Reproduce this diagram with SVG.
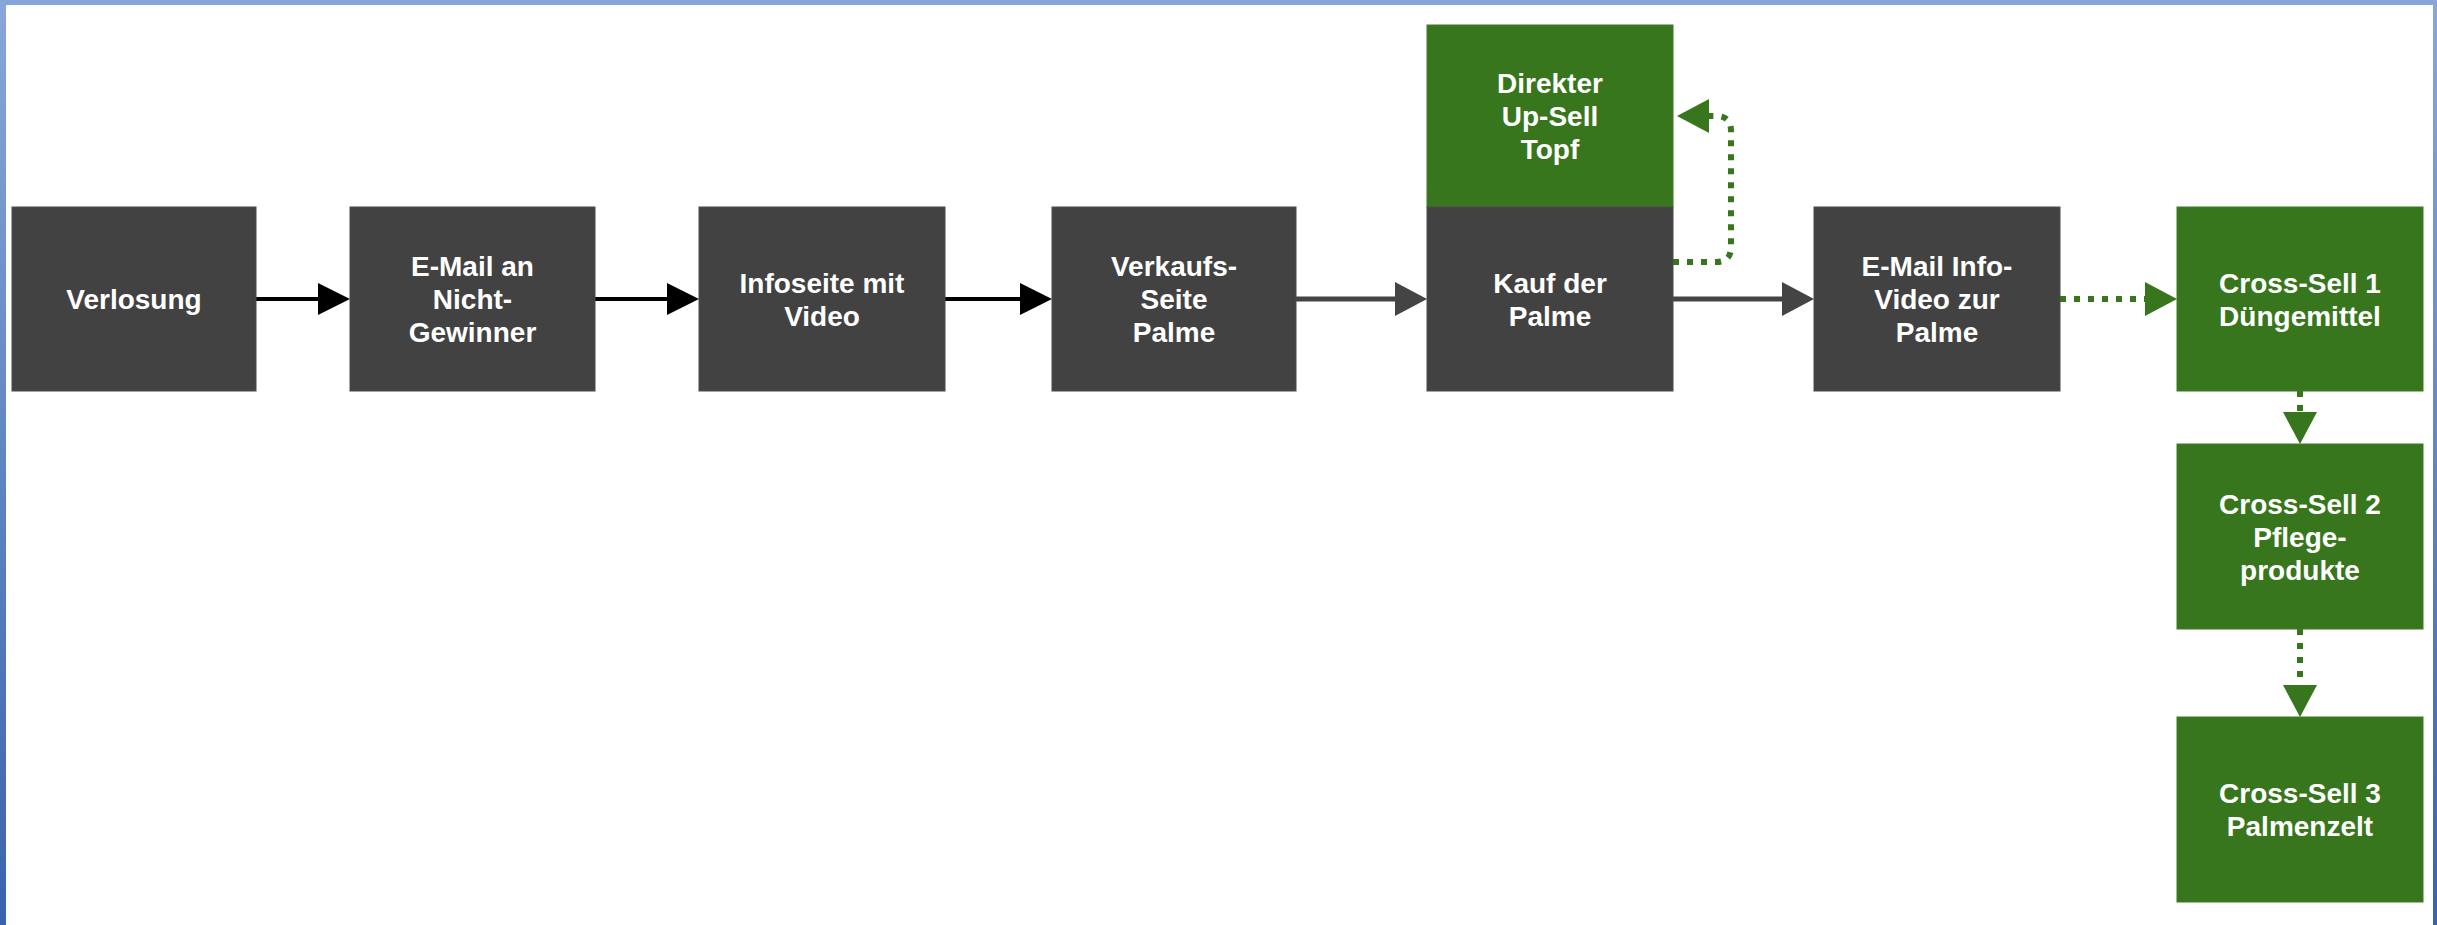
<svg xmlns="http://www.w3.org/2000/svg" width="2437" height="925" viewBox="0 0 2437 925">
  <defs>
    <linearGradient id="sideGrad" x1="0" y1="0" x2="0" y2="1">
      <stop offset="0" stop-color="#88a6da"/>
      <stop offset="1" stop-color="#3a62ad"/>
    </linearGradient>
    <marker id="arrBlack" markerUnits="userSpaceOnUse" markerWidth="32" markerHeight="32" refX="2" refY="16" orient="auto">
      <path d="M0,0 L32,16 L0,32 Z" fill="#000"/>
    </marker>
    <marker id="arrGray" markerUnits="userSpaceOnUse" markerWidth="32" markerHeight="34" refX="2" refY="17" orient="auto">
      <path d="M0,0 L32,17 L0,34 Z" fill="#444444"/>
    </marker>
    <marker id="arrGreen" markerUnits="userSpaceOnUse" markerWidth="32" markerHeight="34" refX="2" refY="17" orient="auto">
      <path d="M0,0 L32,17 L0,34 Z" fill="#38761d"/>
    </marker>
    <style>
      .dark { fill: #424242; stroke: #4a4a4a; stroke-width: 1; }
      .green { fill: #38761d; stroke: #3d7d22; stroke-width: 1; }
      .lbl { font-family: "Liberation Sans", Arial, sans-serif; font-weight: bold; font-size: 28px; fill: #ffffff; text-anchor: middle; }
      .black { fill: none; stroke: #000; stroke-width: 4; marker-end: url(#arrBlack); }
      .gray { fill: none; stroke: #444444; stroke-width: 5; marker-end: url(#arrGray); }
      .dotted { fill: none; stroke: #38761d; stroke-width: 6; stroke-dasharray: 6 8; marker-end: url(#arrGreen); }
    </style>
  </defs>

  <rect x="0" y="0" width="2437" height="925" fill="#ffffff"/>
  <rect x="0" y="0" width="2437" height="5" fill="#86a4d9"/>
  <rect x="0" y="0" width="6" height="925" fill="url(#sideGrad)"/>
  <rect x="2433" y="0" width="4" height="925" fill="url(#sideGrad)"/>

  <g id="connectors">
    <path class="black" d="M256,299 H320"/>
    <path class="black" d="M595,299 H669"/>
    <path class="black" d="M945,299 H1022"/>
    <path class="gray" d="M1296,299 H1397"/>
    <path class="gray" d="M1673,299 H1784"/>
    <path class="dotted" d="M1673,262 H1716 Q1731,262 1731,247 V131 Q1731,116 1716,116 H1707"/>
    <path class="dotted" d="M2060,299 H2147"/>
    <path class="dotted" d="M2300,391 V414"/>
    <path class="dotted" d="M2300,629 V687"/>
  </g>

  <g id="n-verlosung">
    <rect class="dark" x="12" y="207" width="244" height="184"/>
    <text class="lbl" x="134" y="309">Verlosung</text>
  </g>
  <g id="n-email-nichtgewinner">
    <rect class="dark" x="350" y="207" width="245" height="184"/>
    <text class="lbl" x="472.5" y="276">E-Mail an</text>
    <text class="lbl" x="472.5" y="309">Nicht-</text>
    <text class="lbl" x="472.5" y="342">Gewinner</text>
  </g>
  <g id="n-infoseite">
    <rect class="dark" x="699" y="207" width="246" height="184"/>
    <text class="lbl" x="822" y="292.5">Infoseite mit</text>
    <text class="lbl" x="822" y="325.5">Video</text>
  </g>
  <g id="n-verkaufsseite">
    <rect class="dark" x="1052" y="207" width="244" height="184"/>
    <text class="lbl" x="1174" y="276">Verkaufs-</text>
    <text class="lbl" x="1174" y="309">Seite</text>
    <text class="lbl" x="1174" y="342">Palme</text>
  </g>
  <g id="n-upsell">
    <rect class="green" x="1427" y="25" width="246" height="182"/>
    <text class="lbl" x="1550" y="93">Direkter</text>
    <text class="lbl" x="1550" y="126">Up-Sell</text>
    <text class="lbl" x="1550" y="159">Topf</text>
  </g>
  <g id="n-kauf">
    <rect class="dark" x="1427" y="207" width="246" height="184"/>
    <text class="lbl" x="1550" y="292.5">Kauf der</text>
    <text class="lbl" x="1550" y="325.5">Palme</text>
  </g>
  <g id="n-email-info">
    <rect class="dark" x="1814" y="207" width="246" height="184"/>
    <text class="lbl" x="1937" y="276">E-Mail Info-</text>
    <text class="lbl" x="1937" y="309">Video zur</text>
    <text class="lbl" x="1937" y="342">Palme</text>
  </g>
  <g id="n-cross1">
    <rect class="green" x="2177" y="207" width="246" height="184"/>
    <text class="lbl" x="2300" y="292.5">Cross-Sell 1</text>
    <text class="lbl" x="2300" y="325.5">Düngemittel</text>
  </g>
  <g id="n-cross2">
    <rect class="green" x="2177" y="444" width="246" height="185"/>
    <text class="lbl" x="2300" y="513.5">Cross-Sell 2</text>
    <text class="lbl" x="2300" y="546.5">Pflege-</text>
    <text class="lbl" x="2300" y="579.5">produkte</text>
  </g>
  <g id="n-cross3">
    <rect class="green" x="2177" y="717" width="246" height="185"/>
    <text class="lbl" x="2300" y="803">Cross-Sell 3</text>
    <text class="lbl" x="2300" y="836">Palmenzelt</text>
  </g>
</svg>
